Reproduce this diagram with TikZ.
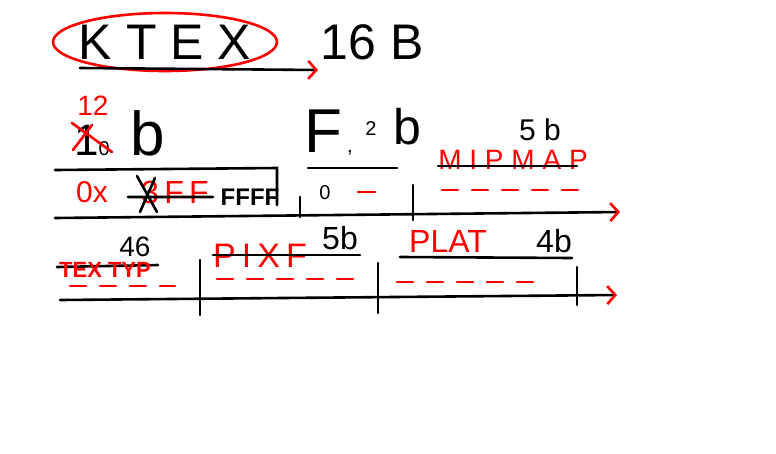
\documentclass[tikz,border=0pt]{standalone}
\usepackage{fontspec}
\setmainfont{Liberation Sans}
\usetikzlibrary{arrows.meta, positioning}

\newcommand{\fs}[1]{\fontsize{#1}{#1}\selectfont}

\begin{document}
\begin{tikzpicture}[x=1pt, y=-1pt,
    pen/.style={line width=2.6pt, line cap=round},
    redpen/.style={pen, red},
    axis/.style={pen, -{Straight Barb[red, length=8pt, width=18pt]}},
    dashline/.style={redpen, dash pattern=on 16pt off 14pt},
    txt/.style={inner sep=0pt},
    redtxt/.style={inner sep=0pt, text=red}]
  \useasboundingbox[fill=white] (0,0) rectangle (776,453);

  % title
  \node[txt] (ktex) at (165,42) {\fs{50}K T E X};
  \draw[redpen] (ktex) ellipse (112 and 29);
  \node[txt] (size) at (372,42) {\fs{50}16 B};
  \coordinate (t0) at (80,68);
  \coordinate (t1) at (318,70);
  \draw[axis] (t0) -- (t1);

  % first word
  \node[txt] (one) at (92,140) {\fs{44}1\fs{20}0};
  \draw[redpen] (72,123) -- (112,152) (73,150) -- (92,125);
  \node[redtxt] (twelve) at (93,106) {\fs{28}12};
  \node[txt] (bytes) at (148,133) {\fs{62}b};
  \node[txt] (ff) at (323,131) {\fs{62}F};
  \node[txt] (comma) at (350,153) {\fs{20},};
  \node[txt] (two) at (371,129) {\fs{20}2};
  \node[txt] (ftwo) at (407,127) {\fs{50}b};
  \node[txt] (five) at (540,130) {\fs{30}5 b};
  \node[redtxt] (mipmap) at (513,160) {\fs{28}M I P M A P};

  \draw[pen] (55,170) -- (277,168) -- (277,205);
  \draw[pen] (308,168) -- (397,168);
  \draw[pen] (438,166) -- (577,166);

  \node[redtxt] (hex) at (92,192) {\fs{30}0x};
  \node[redtxt] (hexmask) at (175,192) {\fs{32}3\,F\,F};
  \draw[pen] (137,176) -- (157,212) (140,212) -- (155,178) (128,197) -- (213,197);
  \node[txt] (hexrest) at (250,197) {\fs{24}\bfseries FFFF};
  \node[txt] (zero) at (325,193) {\fs{20}0};
  \draw[redpen] (358,192) -- (375,192);
  \draw[dashline] (442,190) -- (588,190);

  \draw[pen] (300,197) -- (300,217);
  \draw[pen] (413,185) -- (413,220);
  \coordinate (a0) at (55,218);
  \coordinate (a1) at (620,212);
  \draw[axis] (a0) -- (a1);

  % second word
  \node[txt] (four) at (135,247) {\fs{28}46};
  \draw[pen] (57,267) -- (158,265);
  \node[redtxt] (textyp) at (105,270) {\fs{22}\bfseries TEX TYP};
  \draw[dashline] (70,286) -- (175,286);
  \draw[pen] (200,260) -- (200,315);

  \node[redtxt] (pixf) at (260,256) {\fs{34}P\hspace{6pt}I\hspace{6pt}X\hspace{6pt}F};
  \node[txt] (fiveb) at (340,238) {\fs{32}5b};
  \draw[pen] (213,255) -- (360,255);
  \draw[dashline] (217,279) -- (355,279);
  \draw[pen] (378,263) -- (378,313);

  \node[redtxt] (plat) at (448,241) {\fs{32}PLAT};
  \node[txt] (fourb) at (554,241) {\fs{32}4b};
  \draw[pen] (400,257) -- (572,258);
  \draw[dashline] (397,282) -- (545,282);
  \draw[pen] (577,267) -- (577,305);

  \coordinate (b0) at (60,300);
  \coordinate (b1) at (617,295);
  \draw[axis] (b0) -- (b1);
\end{tikzpicture}
\end{document}
